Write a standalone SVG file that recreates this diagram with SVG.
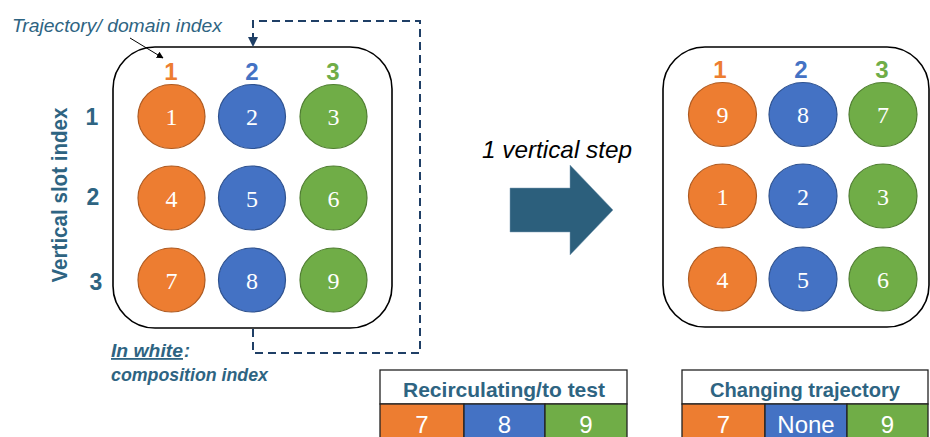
<svg xmlns="http://www.w3.org/2000/svg" width="930" height="437" viewBox="0 0 930 437">
<defs>
<style>
.panel{fill:#fff;stroke:#000;stroke-width:1.6}
.o{fill:#ED7D31;stroke:#AE5A21;stroke-width:1.2}
.b{fill:#4472C4;stroke:#2F528F;stroke-width:1.2}
.g{fill:#70AD47;stroke:#507E32;stroke-width:1.2}
.ct{font-family:"Liberation Serif",serif;font-size:24px;fill:#fff;text-anchor:middle}
.hd{font-family:"Liberation Sans",sans-serif;font-weight:bold;font-size:24px;text-anchor:middle}
.lab{font-family:"Liberation Sans",sans-serif;fill:#2E6482}
.cell{font-family:"Liberation Sans",sans-serif;font-size:24px;fill:#fff;text-anchor:middle}
.tb{stroke:#222;stroke-width:1.3}
</style>
<marker id="navy" viewBox="0 0 10 10" refX="9" refY="5" markerWidth="5" markerHeight="5" orient="auto"><path d="M0,0L10,5L0,10z" fill="#1F3F66"/></marker>
<marker id="blk" viewBox="0 0 10 10" refX="9" refY="5" markerWidth="7" markerHeight="7" orient="auto"><path d="M0,0L10,5L0,10z" fill="#000"/></marker>
</defs>

<g id="left-panel">
<rect class="panel" x="113" y="47" width="279" height="281" rx="42"/>
<text class="hd" x="171" y="80" fill="#ED7D31">1</text>
<text class="hd" x="252" y="80" fill="#4472C4">2</text>
<text class="hd" x="333" y="80" fill="#70AD47">3</text>
</g>
<g id="L1"><ellipse class="o" cx="171.5" cy="116.5" rx="33.5" ry="32"/><text class="ct" x="171.5" y="125">1</text></g>
<g id="L2"><ellipse class="b" cx="252" cy="116.5" rx="33.5" ry="32"/><text class="ct" x="252" y="125">2</text></g>
<g id="L3"><ellipse class="g" cx="333.5" cy="116.5" rx="33.5" ry="32"/><text class="ct" x="333.5" y="125">3</text></g>
<g id="L4"><ellipse class="o" cx="171.5" cy="198" rx="33.5" ry="32"/><text class="ct" x="171.5" y="207">4</text></g>
<g id="L5"><ellipse class="b" cx="252" cy="198" rx="33.5" ry="32"/><text class="ct" x="252" y="207">5</text></g>
<g id="L6"><ellipse class="g" cx="333.5" cy="198" rx="33.5" ry="32"/><text class="ct" x="333.5" y="207">6</text></g>
<g id="L7"><ellipse class="o" cx="171.5" cy="280" rx="33.5" ry="32"/><text class="ct" x="171.5" y="289">7</text></g>
<g id="L8"><ellipse class="b" cx="252" cy="280" rx="33.5" ry="32"/><text class="ct" x="252" y="289">8</text></g>
<g id="L9"><ellipse class="g" cx="333.5" cy="280" rx="33.5" ry="32"/><text class="ct" x="333.5" y="289">9</text></g>

<g id="right-panel">
<rect class="panel" x="663" y="47" width="266" height="280" rx="42"/>
<text class="hd" x="720" y="78" fill="#ED7D31">1</text>
<text class="hd" x="801" y="78" fill="#4472C4">2</text>
<text class="hd" x="882" y="78" fill="#70AD47">3</text>
</g>
<g id="R1"><ellipse class="o" cx="722.5" cy="114.5" rx="34" ry="32"/><text class="ct" x="722.5" y="123">9</text></g>
<g id="R2"><ellipse class="b" cx="803" cy="114.5" rx="34" ry="32"/><text class="ct" x="803" y="123">8</text></g>
<g id="R3"><ellipse class="g" cx="883" cy="114.5" rx="34" ry="32"/><text class="ct" x="883" y="123">7</text></g>
<g id="R4"><ellipse class="o" cx="722.5" cy="196" rx="34" ry="32"/><text class="ct" x="722.5" y="205">1</text></g>
<g id="R5"><ellipse class="b" cx="803" cy="196" rx="34" ry="32"/><text class="ct" x="803" y="205">2</text></g>
<g id="R6"><ellipse class="g" cx="883" cy="196" rx="34" ry="32"/><text class="ct" x="883" y="205">3</text></g>
<g id="R7"><ellipse class="o" cx="722.5" cy="279" rx="34" ry="32"/><text class="ct" x="722.5" y="288">4</text></g>
<g id="R8"><ellipse class="b" cx="803" cy="279" rx="34" ry="32"/><text class="ct" x="803" y="288">5</text></g>
<g id="R9"><ellipse class="g" cx="883" cy="279" rx="34" ry="32"/><text class="ct" x="883" y="288">6</text></g>

<g id="connectors">
<path d="M253,329 V353 H420 V21 H253 V46" fill="none" stroke="#1F3F66" stroke-width="2" stroke-dasharray="8,5" marker-end="url(#navy)"/>
<line x1="130" y1="38" x2="163" y2="58" stroke="#000" stroke-width="1" marker-end="url(#blk)"/>
<polygon id="step-arrow" points="510,188 570,188 570,165 613,210 570,255 570,232 510,232" fill="#2C5F7C" stroke="#7F9FB5" stroke-width="0.5"/>
</g>

<g id="labels">
<text class="lab" x="12" y="32" font-size="19" font-style="italic" textLength="210" lengthAdjust="spacingAndGlyphs">Trajectory/ domain index</text>
<text class="lab" transform="translate(67,195) rotate(-90)" font-size="22" font-weight="bold" text-anchor="middle" textLength="175" lengthAdjust="spacingAndGlyphs">Vertical slot index</text>
<text class="lab" x="92" y="125" font-size="23" font-weight="bold" text-anchor="middle">1</text>
<text class="lab" x="93" y="205" font-size="23" font-weight="bold" text-anchor="middle">2</text>
<text class="lab" x="96" y="290" font-size="23" font-weight="bold" text-anchor="middle">3</text>
<text class="lab" x="111" y="357" font-size="18" font-weight="bold" font-style="italic" text-decoration="underline" textLength="72" lengthAdjust="spacingAndGlyphs">In white</text>
<text class="lab" x="184" y="357" font-size="18" font-weight="bold" font-style="italic">:</text>
<text class="lab" x="111" y="381" font-size="18" font-weight="bold" font-style="italic" textLength="157" lengthAdjust="spacingAndGlyphs">composition index</text>
<text x="482" y="158" font-family="Liberation Sans,sans-serif" font-size="24" font-style="italic" fill="#000" textLength="150" lengthAdjust="spacingAndGlyphs">1 vertical step</text>
</g>

<g id="table-recirculating">
<rect class="tb" x="380" y="370" width="247" height="34" fill="#fff"/>
<rect class="tb" x="380" y="404" width="84" height="40" fill="#ED7D31"/>
<rect class="tb" x="464" y="404" width="81" height="40" fill="#4472C4"/>
<rect class="tb" x="545" y="404" width="82" height="40" fill="#70AD47"/>
<text class="lab" x="504" y="397" font-size="21" font-weight="bold" text-anchor="middle" textLength="202" lengthAdjust="spacingAndGlyphs">Recirculating/to test</text>
<text class="cell" x="422" y="433">7</text>
<text class="cell" x="504.5" y="433">8</text>
<text class="cell" x="586" y="433">9</text>
</g>

<g id="table-changing">
<rect class="tb" x="682" y="370" width="246" height="34" fill="#fff"/>
<rect class="tb" x="682" y="404" width="83" height="40" fill="#ED7D31"/>
<rect class="tb" x="765" y="404" width="82" height="40" fill="#4472C4"/>
<rect class="tb" x="847" y="404" width="81" height="40" fill="#70AD47"/>
<text class="lab" x="805" y="397" font-size="21" font-weight="bold" text-anchor="middle" textLength="190" lengthAdjust="spacingAndGlyphs">Changing trajectory</text>
<text class="cell" x="723.5" y="433">7</text>
<text class="cell" x="806" y="433">None</text>
<text class="cell" x="887.5" y="433">9</text>
</g>
</svg>
